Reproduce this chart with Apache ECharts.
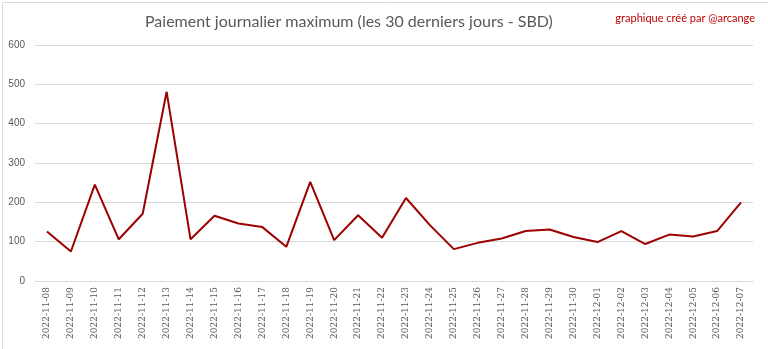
<!DOCTYPE html>
<html><head><meta charset="utf-8">
<script src="https://cdn.jsdelivr.net/npm/echarts@6/dist/echarts.min.js"></script>
<style>html,body{margin:0;padding:0;background:#fff}#c{width:768px;height:349px}</style>
</head><body><div id="c"></div>
<script>
const categories = ["2022-11-08","2022-11-09","2022-11-10","2022-11-11","2022-11-12","2022-11-13","2022-11-14","2022-11-15","2022-11-16","2022-11-17","2022-11-18","2022-11-19","2022-11-20","2022-11-21","2022-11-22","2022-11-23","2022-11-24","2022-11-25","2022-11-26","2022-11-27","2022-11-28","2022-11-29","2022-11-30","2022-12-01","2022-12-02","2022-12-03","2022-12-04","2022-12-05","2022-12-06","2022-12-07"];
const payout = [126,75,245,106,171,481,106,166,146,137,87,252,104,167,110,211,142,81,97,108,127,131,112,99,127,94,118,113,127,200];
const yTicks = [0,100,200,300,400,500,600];
const titleText = "Paiement journalier maximum (les 30 derniers jours - SBD)";
const creditText = "graphique créé par @arcange";

const chart = echarts.init(document.getElementById('c'), null, {renderer:'canvas'});
chart.setOption({
  animation:false,
  backgroundColor:'#fff',
  title:[
    {text:titleText,left:140,top:9,textStyle:{fontFamily:'Lato',fontSize:16,fontWeight:'normal',color:'#595959'}},
    {text:creditText,right:8,top:8,textStyle:{fontFamily:'Lato',fontSize:11,fontWeight:'normal',color:'#c00000'}}
  ],
  graphic:[{type:'rect',left:0,top:0,shape:{width:767,height:348},style:{fill:'none',stroke:'#d9d9d9',lineWidth:1},silent:true}],
  grid:{left:35,right:15,top:45,bottom:68},
  xAxis:{type:'category',data:categories,boundaryGap:true,
    axisLine:{lineStyle:{color:'#d9d9d9'}},axisTick:{show:false},
    axisLabel:{rotate:90,interval:0,fontFamily:'DejaVu Serif',fontSize:9,color:'#595959',margin:6}},
  yAxis:{type:'value',min:yTicks[0],max:yTicks[yTicks.length-1],interval:100,
    axisLine:{show:false},axisTick:{show:false},
    splitLine:{lineStyle:{color:'#d9d9d9',width:1}},
    axisLabel:{fontFamily:'Liberation Sans',fontSize:10,color:'#595959',margin:10}},
  series:[{type:'line',data:payout,symbol:'none',lineStyle:{color:'#9c0000',width:2},itemStyle:{color:'#9c0000'}}]
});
</script></body></html>
